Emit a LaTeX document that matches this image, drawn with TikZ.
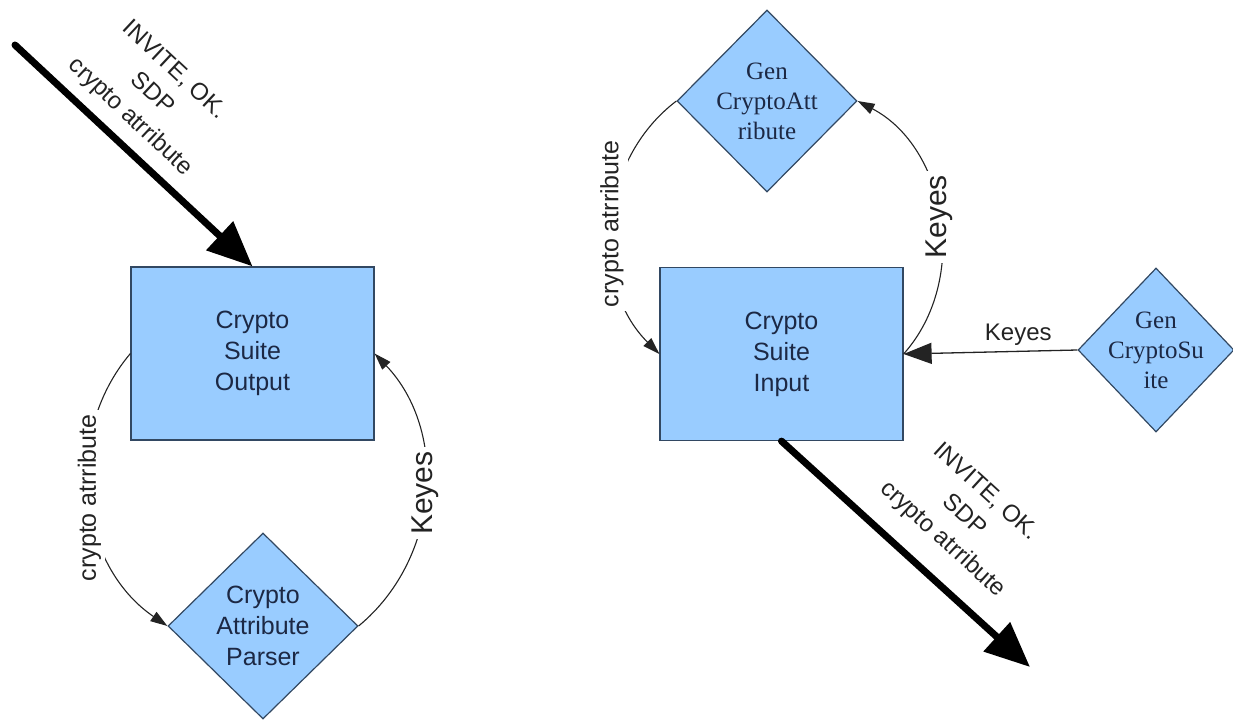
\documentclass[tikz,border=0pt]{standalone}
\usepackage{fontspec}
\setmainfont{Liberation Sans}
\newfontfamily\genfont{Liberation Serif}
\usetikzlibrary{shapes.geometric,arrows.meta}
\definecolor{boxfill}{RGB}{153,204,255}
\definecolor{boxline}{RGB}{50,72,98}
\definecolor{boxtext}{RGB}{28,40,68}
\definecolor{linkgray}{RGB}{35,35,35}
\tikzset{
  blockbox/.style={draw=boxline,fill=boxfill,line width=1.2pt,inner sep=0pt,
    minimum width=243pt,minimum height=173pt,align=center,text=boxtext,
    font=\fontsize{25}{31}\selectfont},
  decision/.style 2 args={diamond,draw=boxline,fill=boxfill,line width=1.2pt,
    inner sep=0pt,minimum width=#1,minimum height=#2},
  dtext/.style={align=center,text=boxtext,inner sep=0pt,font=\fontsize{25}{31}\selectfont},
  gtext/.style={align=center,text=boxtext,inner sep=0pt,font=\genfont\fontsize{25}{30}\selectfont},
  flow/.style={draw=linkgray,line width=1.1pt,-{Triangle[length=17pt,width=11pt]}},
  keyflow/.style={draw=linkgray,line width=1.3pt,-{Triangle[length=28pt,width=21pt]}},
  msgarrow/.style={draw=black,line width=7pt,line cap=round,-{Triangle[length=45pt,width=38pt]}},
  arclabel/.style={fill=white,inner sep=4pt,rotate=90,text=linkgray},
  msglabel/.style={inner sep=0pt,align=center,text=linkgray,
    font=\fontsize{24}{32}\selectfont}
}
\begin{document}
\begin{tikzpicture}[x=1pt,y=-1pt]
\useasboundingbox (0,0) rectangle (1233,722);
\node[blockbox] (output) at (252.5,353.5) {Crypto\\Suite\\Output};
\node[decision={190pt}{186pt}] (parser) at (263,626) {};
\node[dtext] at (parser) {Crypto\\Attribute\\Parser};
\coordinate (outsrc) at (15,45);
\draw[msgarrow] (outsrc) -- (output.north);
\node[msglabel,rotate=-43.1] (outmsg) at (152,94) {INVITE, OK.\\SDP\\crypto atrribute};
\draw[flow] (output.west) to[bend right=48]
  node[arclabel,font=\fontsize{25}{30}\selectfont] {crypto atrribute} (parser.west);
\draw[flow] (parser.east) to[bend right=47]
  node[arclabel,font=\fontsize{30}{34}\selectfont] {Keyes} (output.east);
\node[blockbox] (input) at (781.5,354) {Crypto\\Suite\\Input};
\node[decision={180pt}{182pt}] (genattr) at (767,101) {};
\node[gtext] at (genattr) {Gen\\CryptoAtt\\ribute};
\node[decision={156pt}{164pt}] (gensuite) at (1156,350) {};
\node[gtext] at (gensuite) {Gen\\CryptoSu\\ite};
\coordinate (insink) at (1030,667);
\draw[msgarrow] (input.south) -- (insink);
\node[msglabel,rotate=-42.4] (inmsg) at (964,516) {INVITE, OK.\\SDP\\crypto atrribute};
\draw[flow] (genattr.west) to[bend right=49]
  node[arclabel,font=\fontsize{25}{30}\selectfont] {crypto atrribute} (input.west);
\draw[flow] (input.east) to[bend right=52]
  node[arclabel,font=\fontsize{30}{34}\selectfont] {Keyes} (genattr.east);
\draw[keyflow] (gensuite.west) -- node[above=5pt,pos=0.34,inner sep=0pt,text=linkgray,
  font=\fontsize{24}{28}\selectfont] {Keyes} (input.east);
\end{tikzpicture}
\end{document}
